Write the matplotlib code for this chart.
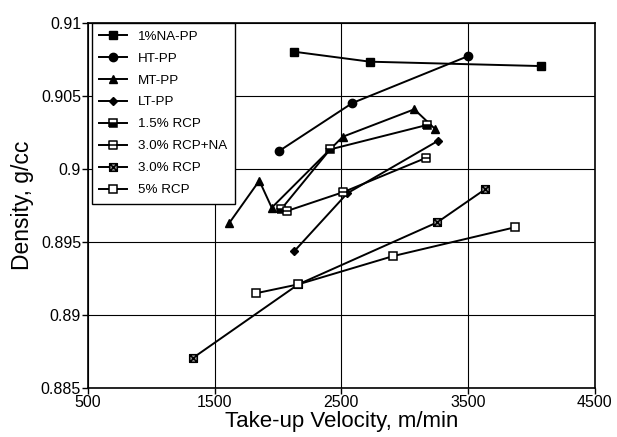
import matplotlib
matplotlib.use("Agg")
import matplotlib.pyplot as plt
from matplotlib.path import Path
from matplotlib.ticker import FixedLocator, FixedFormatter

plt.rcParams['font.family'] = ['Liberation Sans', 'DejaVu Sans']

# ---- data ----
na_pp_x = [2130, 2727, 4078]
na_pp_y = [0.90803, 0.90735, 0.90705]

ht_pp_x = [2009, 2588, 3504]
ht_pp_y = [0.90123, 0.90452, 0.90774]

mt_pp_x = [1614, 1853, 1951, 2512, 3077, 3241]
mt_pp_y = [0.89628, 0.8992, 0.89735, 0.90221, 0.90409, 0.90274]

lt_pp_x = [2130, 2548, 3262]
lt_pp_y = [0.89438, 0.89834, 0.90192]

rcp15_x = [2024, 2412, 3175]
rcp15_y = [0.89723, 0.90134, 0.90301]

rcp30na_x = [2070, 2517, 3166]
rcp30na_y = [0.89712, 0.89842, 0.90075]

rcp30_x = [1332, 2161, 3259, 3636]
rcp30_y = [0.88708, 0.8921, 0.89635, 0.89861]

rcp5_x = [1827, 2161, 2912, 3873]
rcp5_y = [0.89149, 0.8921, 0.89404, 0.89601]

series_labels = ['1%NA-PP', 'HT-PP', 'MT-PP', 'LT-PP', '1.5% RCP',
                 '3.0% RCP+NA', '3.0% RCP', '5% RCP']

x_ticks = [500, 1500, 2500, 3500, 4500]
x_ticklabels = ['500', '1500', '2500', '3500', '4500']
y_ticks = [0.885, 0.89, 0.895, 0.9, 0.905, 0.91]
y_ticklabels = ['0.885', '0.89', '0.895', '0.9', '0.905', '0.91']

# ---- custom markers ----
sq = [(-1, -1), (1, -1), (1, 1), (-1, 1), (-1, -1)]
mid_line = Path(sq + [(-1, 0), (1, 0)],
                [Path.MOVETO, Path.LINETO, Path.LINETO, Path.LINETO, Path.CLOSEPOLY,
                 Path.MOVETO, Path.LINETO])
x_box = Path(sq + [(-1, -1), (1, 1), (-1, 1), (1, -1)],
             [Path.MOVETO, Path.LINETO, Path.LINETO, Path.LINETO, Path.CLOSEPOLY,
              Path.MOVETO, Path.LINETO, Path.MOVETO, Path.LINETO])

fig = plt.figure(figsize=(6.17, 4.37), dpi=100)
ax = fig.add_axes([88/617, 1-388/437, (594.5-88)/617, (388-23)/437])

lw = 1.4
ax.plot(na_pp_x, na_pp_y, color='black', lw=lw, marker='s', ms=5.5,
        mfc='black', mec='black', label=series_labels[0], zorder=3)
ax.plot(ht_pp_x, ht_pp_y, color='black', lw=lw, marker='o', ms=6,
        mfc='black', mec='black', label=series_labels[1], zorder=3)
ax.plot(mt_pp_x, mt_pp_y, color='black', lw=lw, marker='^', ms=6,
        mfc='black', mec='black', label=series_labels[2], zorder=3)
ax.plot(lt_pp_x, lt_pp_y, color='black', lw=lw, marker='D', ms=4.2,
        mfc='black', mec='black', label=series_labels[3], zorder=3)
ax.plot(rcp15_x, rcp15_y, color='black', lw=lw, marker='s', ms=5.2,
        fillstyle='bottom', mfc='black', mfcalt='white', mec='black', mew=1.1,
        label=series_labels[4], zorder=3)
ax.plot(rcp30na_x, rcp30na_y, color='black', lw=lw, marker=mid_line, ms=5.5,
        mfc='white', mec='black', mew=1.1, label=series_labels[5], zorder=3)
ax.plot(rcp30_x, rcp30_y, color='black', lw=lw, marker=x_box, ms=5.5,
        mfc='#9a9a9a', mec='black', mew=1.1, label=series_labels[6], zorder=3)
ax.plot(rcp5_x, rcp5_y, color='black', lw=lw, marker='s', ms=6.2,
        mfc='white', mec='black', mew=1.1, label=series_labels[7], zorder=3)

ax.set_xlim(500, 4500)
ax.set_ylim(0.885, 0.91)
ax.xaxis.set_major_locator(FixedLocator(x_ticks))
ax.xaxis.set_major_formatter(FixedFormatter(x_ticklabels))
ax.yaxis.set_major_locator(FixedLocator(y_ticks))
ax.yaxis.set_major_formatter(FixedFormatter(y_ticklabels))
ax.tick_params(axis='both', direction='out', length=4, width=1, labelsize=11.5,
               colors='black', pad=1)
ax.grid(True, color='black', lw=0.8)
ax.set_axisbelow(True)
for s in ax.spines.values():
    s.set_color('black')
    s.set_linewidth(1.2)

ax.set_xlabel('Take-up Velocity, m/min', fontsize=16, labelpad=1)
ax.set_ylabel('Density, g/cc', fontsize=16.5, labelpad=5)

leg = ax.legend(loc='upper left', bbox_to_anchor=(0.008, 1.0), borderaxespad=0,
                fancybox=False, framealpha=1, edgecolor='black', fontsize=9.6,
                labelspacing=0.72, handlelength=2.1, handletextpad=0.8,
                borderpad=0.55)
leg.get_frame().set_linewidth(1.0)

fig.savefig('out.png', dpi=100)
